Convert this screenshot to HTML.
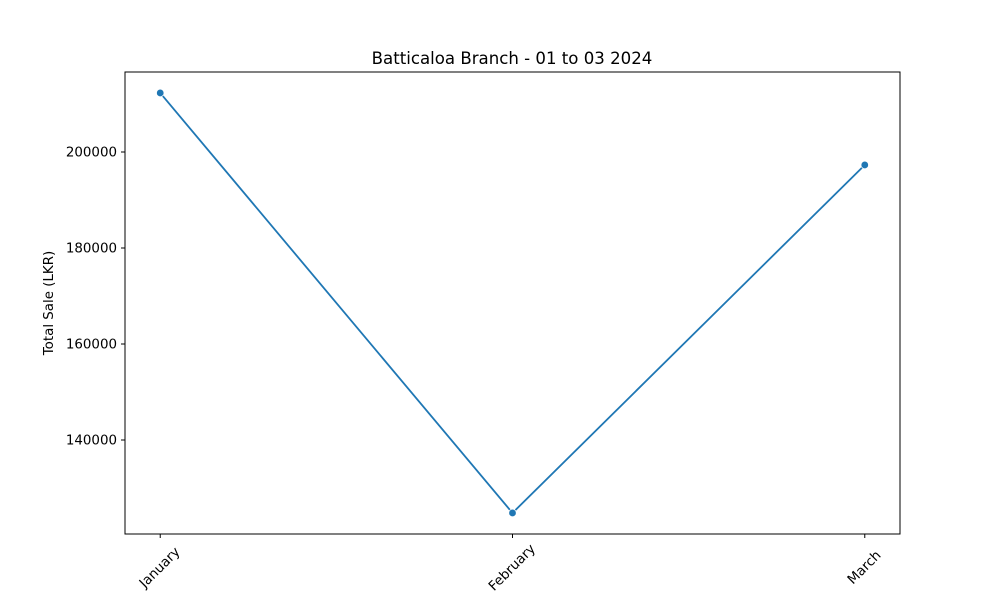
<!DOCTYPE html>
<html><head><meta charset="utf-8"><style>
body{margin:0;background:#fff;}
svg{font-family:"DejaVu Sans","Liberation Sans",sans-serif;}
</style></head><body>
<svg id="chart" width="1000" height="600" xmlns="http://www.w3.org/2000/svg">
<rect width="1000" height="600" fill="#fff"/>
<text x="512" y="64" text-anchor="middle" font-size="16.6">Batticaloa Branch - 01 to 03 2024</text>
<text transform="translate(53,303) rotate(-90)" text-anchor="middle" font-size="13.4">Total Sale (LKR)</text>
<g id="ticks"></g>
<g id="series"></g>
<rect x="125" y="72" width="775" height="462" fill="none" stroke="#000" stroke-width="1"/>
</svg>
<script>
const categories = ["January", "February", "March"];
const sales = [212300, 124800, 197300];
const yTicks = [140000, 160000, 180000, 200000];
const yTickLabels = ["140000", "160000", "180000", "200000"];

const NS = "http://www.w3.org/2000/svg";
const L = 125, R = 900, T = 72, B = 534;
const yMin = 120417, yMax = 216667;
function xScale(i){ return L + (i + 0.1) / (categories.length - 1 + 0.2) * (R - L); }
function yScale(v){ return B - (v - yMin) / (yMax - yMin) * (B - T); }
function mk(tag, attrs){ const e = document.createElementNS(NS, tag); for (const k in attrs) e.setAttribute(k, attrs[k]); return e; }
const tg = document.getElementById('ticks');
yTicks.forEach((v, i) => {
  const y = yScale(v);
  const t = mk('line', {x1: L - 4, x2: L, y1: y, y2: y, stroke: '#000'});
  
  
  tg.appendChild(t);
  const lb = mk('text', {x: L - 8, y: y + 4.5, 'text-anchor': 'end', 'font-size': '13.4'});
  lb.textContent = yTickLabels[i];
  
  
  tg.appendChild(lb);
});
categories.forEach((c, i) => {
  const x = xScale(i);
  const t = mk('line', {x1: x, x2: x, y1: B, y2: B + 4, stroke: '#000'});
  
  
  tg.appendChild(t);
  const lb = mk('text', {transform: `translate(${x},568) rotate(-45)`, 'text-anchor': 'middle', 'dominant-baseline': 'central', 'font-size': '13.4'});
  lb.textContent = c;
  
  
  tg.appendChild(lb);
});
const sg = document.getElementById('series');
const pts = sales.map((v, i) => xScale(i) + ',' + yScale(v)).join(' ');
const line = mk('polyline', {points: pts, fill: 'none', stroke: '#1f77b4', 'stroke-width': '1.8'});


sg.appendChild(line);
sales.forEach((v, i) => {
  const c = mk('circle', {cx: xScale(i), cy: yScale(v), r: 3.8, fill: '#1f77b4', stroke: '#fff', 'stroke-width': '0.8'});
  
  
  sg.appendChild(c);
});
</script>
</body></html>
